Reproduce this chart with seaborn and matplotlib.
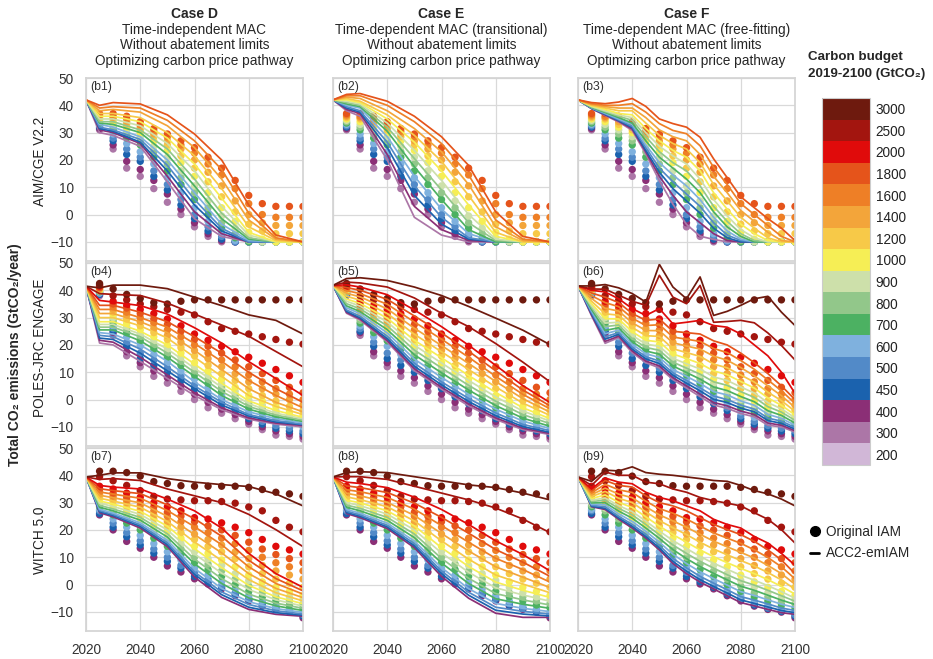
import numpy as np
import pandas as pd
import matplotlib
matplotlib.use("Agg")
import matplotlib.pyplot as plt
import seaborn as sns
from matplotlib.colors import ListedColormap, BoundaryNorm
from matplotlib.lines import Line2D

# =====================================
# Carbon budgets and colours
# =====================================

budget_levels = [3000, 2500, 2000, 1800, 1600, 1400, 1200, 1000, 900, 800, 700, 600, 500, 450, 400, 300, 200]
budget_colors = ["#6e1a0e", "#a3150f", "#e00b0b", "#e5541b", "#ee7f26", "#f3a53a", "#f7c948", "#f6ee55",
                 "#cde0aa", "#92c78a", "#4cb162", "#7fb1de", "#528ac8", "#1b62ae", "#8b2f76", "#ac76a7", "#d1b7d7"]
palette = dict(zip(budget_levels, budget_colors))

dot_years = [2025, 2030, 2035, 2040, 2045, 2050, 2055, 2060, 2065, 2070, 2075, 2080, 2085, 2090, 2095, 2100]
line_years_de = [2020, 2025, 2030, 2040, 2050, 2060, 2070, 2080, 2090, 2100]
line_years_f = [2020, 2025, 2030, 2035, 2040, 2045, 2050, 2055, 2060, 2065, 2070, 2075, 2080, 2085, 2090, 2095, 2100]

# =====================================
# AIM/CGE V2.2
# =====================================

aim_budgets = [300, 400, 450, 500, 600, 700, 800, 900, 1000, 1200, 1400, 1600, 1800]

aim_dots = [
    [31, 24, 17, 14, 9.5, 4.5, 0, -4.5, -8, -10, -10, -10, -10, -10, -10, -10],
    [31.5, 25.5, 19.5, 16.5, 12.5, 7.5, 2, -3, -7, -9.5, -10, -10, -10, -10, -10, -10],
    [32, 27, 22, 19.5, 14, 9, 3.5, -1.5, -6, -9, -10, -10, -10, -10, -10, -10],
    [32.5, 28, 24, 21, 16, 11, 5.5, 0, -4.5, -8, -10, -10, -10, -10, -10, -10],
    [33, 29.5, 26, 23, 18.5, 13.5, 8, 2.5, -2.5, -7, -9.5, -10, -10, -10, -10, -10],
    [33.5, 31, 28, 25.5, 21, 16, 11, 5.5, 0, -5, -8.5, -10, -10, -10, -10, -10],
    [34, 32, 29.5, 27, 23, 18.5, 13.5, 8, 2.5, -3, -7, -9.5, -10, -10, -10, -10],
    [34.5, 33, 31, 28.5, 25, 21, 16, 10.5, 5, -0.5, -5, -8.5, -10, -10, -10, -10],
    [35, 34, 32, 30, 27, 23.5, 19, 14, 8, 2.5, -2.5, -6.5, -9, -10, -10, -10],
    [35.5, 35, 33, 31, 28.5, 25.5, 21.5, 17, 12, 6.5, 1, -3.5, -6, -7, -7, -7],
    [36, 35.5, 34, 32, 29.5, 27, 24, 20, 15.5, 10.5, 5, 0, -3, -4, -4, -4],
    [36.5, 36, 35, 33, 30.5, 28.5, 25.5, 22.5, 18.5, 14.5, 9.5, 4, 0, -1, -1, -1],
    [37, 37, 36, 34, 31.5, 29.5, 27, 24.5, 21, 17, 12.5, 7, 4, 3, 3, 3],
]

aim_lines_d = [
    [42, 30, 29, 25, 12, -1.5, -8, -10, -10, -10],
    [42, 31, 30, 26, 14, 1, -7, -10, -10, -10],
    [42, 31.5, 30.5, 26.5, 16, 3.5, -6, -10, -10, -10],
    [42, 32, 31, 27.5, 18, 5.5, -5, -10, -10, -10],
    [42, 33, 32, 28.5, 20, 8, -3.5, -9.5, -10, -10],
    [42, 33.5, 33, 30, 22, 10.5, -1.5, -9, -10, -10],
    [42, 34, 34, 31, 24, 13, 0.5, -8.5, -10, -10],
    [42, 35, 35, 32.5, 26, 16, 3, -7.5, -10, -10],
    [42, 36, 36, 34, 28, 18.5, 6, -6.5, -10, -10],
    [42, 37, 37, 35.5, 30, 21.5, 9.5, -4.5, -9.5, -10],
    [42, 38, 38.5, 37.5, 32.5, 24.5, 13, -2, -9, -10],
    [42, 39, 39.5, 39, 34.5, 27, 16.5, 0.5, -8.5, -10],
    [42, 40, 41, 40.5, 36.5, 29.5, 20, 3.5, -7.5, -10],
]

aim_lines_e = [
    [42, 38, 36, 20, -1, -7.5, -10, -10, -10, -10],
    [42, 38.5, 37, 22, 3, -5.5, -9.5, -10, -10, -10],
    [42, 39, 37.5, 24.5, 7, -3.5, -9, -10, -10, -10],
    [42, 39.5, 38, 26.5, 10.5, -1, -8.5, -10, -10, -10],
    [42, 40, 39, 28.5, 14, 2, -7, -10, -10, -10],
    [42, 40.5, 39.5, 30.5, 17.5, 5.5, -5.5, -10, -10, -10],
    [42, 41, 40, 32, 20.5, 9, -3, -9.5, -10, -10],
    [42, 41.5, 40.5, 33.5, 23.5, 12.5, 0, -9, -10, -10],
    [42, 42, 41, 35, 26.5, 16, 3.5, -8, -10, -10],
    [42, 42.5, 41.5, 36.5, 29, 19.5, 7, -6.5, -10, -10],
    [42, 43, 42.5, 38, 31.5, 23, 11, -4.5, -9.5, -10],
    [42, 43.5, 43.5, 40, 34, 26, 14.5, -2, -9, -10],
    [42, 44, 44.3, 41.5, 36, 28.5, 18, 1, -8, -10],
]

aim_lines_f = [
    [42, 38.8, 36.3, 33.9, 30.8, 22.2, 12.4, 3.8, -3.6, -7.9, -9.1, -10, -10, -10, -10, -10, -10],
    [42, 38.8, 36.5, 34.2, 31.3, 23, 14, 7, 1, -3, -7, -9.5, -10, -10, -10, -10, -10],
    [42, 38.9, 36.7, 34.4, 31.8, 23.5, 15.5, 9.5, 5, 0.5, -5, -8.5, -10, -10, -10, -10, -10],
    [42, 39, 36.9, 34.7, 32.3, 24.5, 17, 12, 7.5, 3, -3, -7.5, -9.5, -10, -10, -10, -10],
    [42, 39.1, 37.1, 35, 33, 25.5, 19, 14.5, 10.5, 5.5, -1, -6, -9, -10, -10, -10, -10],
    [42, 39.2, 37.4, 35.5, 33.5, 27, 21, 17, 13, 8, 1, -4.5, -8, -10, -10, -10, -10],
    [42, 39.4, 37.7, 36, 34.5, 28.5, 23, 19, 16, 10.5, 3, -2.5, -7, -9.5, -10, -10, -10],
    [42, 39.6, 38, 36.5, 35.5, 30, 25, 21.5, 18.5, 13, 5.5, -0.5, -5.5, -8.5, -10, -10, -10],
    [42, 39.8, 38.5, 37, 36.5, 31.5, 27, 23.5, 21, 16, 8, 2, -3.5, -7, -9.5, -10, -10],
    [42, 40, 39, 38, 38, 33.5, 29, 26, 24, 19, 11, 5, -1, -5, -8.5, -10, -10],
    [42, 40.3, 39.5, 39, 39, 35.5, 31, 28.5, 27, 22, 14, 8, 1.5, -2.5, -6.5, -9.5, -10],
    [42, 40.6, 40, 40, 40.6, 37.5, 33.3, 30.8, 29.6, 25.2, 17.3, 11, 4, 0, -4, -8, -10],
    [42, 41, 40.6, 41.2, 42.5, 39.6, 35, 33.3, 32, 28.3, 20.4, 13.5, 6.5, 2.5, -1.5, -5, -9.5],
]

# =====================================
# POLES-JRC ENGAGE
# =====================================

poles_budgets = [300, 400, 450, 500, 600, 700, 800, 900, 1000, 1200, 1400, 1600, 1800, 2000, 2500, 3000]

poles_dots = [
    [38, 23.5, 16, 12, 8.5, 6, 3, 0, -3, -5, -7, -9, -11, -13, -13.5, -14.5],
    [38.5, 24.5, 17.5, 13.5, 10.5, 8, 5, 2, -1, -3.5, -5.5, -8, -10, -11.5, -12.5, -13.5],
    [38.5, 25, 19.5, 15, 12.5, 10, 7, 4, 1, -1.5, -4, -7, -9, -10.5, -11.5, -12.5],
    [39, 26, 21, 17, 14.5, 11.5, 8.5, 5.5, 2.5, 0, -3, -6, -8, -9.5, -10.5, -11.5],
    [39, 27, 23, 19.5, 16.5, 13.5, 10.5, 7.5, 4.5, 1.5, -1.5, -4.5, -6.5, -8, -9, -10],
    [39.5, 28, 24.5, 21.5, 18.5, 15.5, 12.5, 9, 6, 3, 0, -3, -5, -6.5, -8, -9],
    [39.5, 29, 26, 23, 20, 17, 14, 10.5, 7.5, 4.5, 1.5, -1.5, -3.5, -5, -6.5, -8],
    [40, 30, 27, 24, 21.5, 18.5, 15.5, 12, 9, 6, 3, 0, -2, -4, -5.5, -7],
    [40, 31, 28, 25.5, 23, 20, 17, 13.5, 10.5, 7.5, 4.5, 1.5, -0.5, -2.5, -4.5, -6],
    [40.5, 32, 29.5, 27, 24.5, 22, 19, 16, 12.5, 9.5, 7, 4, 1.5, -0.5, -2.5, -4],
    [40.5, 33, 31, 28.5, 26, 23.5, 21, 18, 15, 12, 9.5, 6.5, 4, 2, 0, -2],
    [41, 34, 32, 30, 28, 25.5, 23, 20, 17, 14.5, 12, 9, 6.5, 4, 2, 0],
    [41, 35, 33.5, 31.5, 29.5, 27.5, 25, 22, 19.5, 17, 14.5, 12, 9.5, 7, 4.5, 2.5],
    [41.5, 36, 34.5, 33, 31.5, 29.5, 27, 24, 21.7, 19.5, 17.5, 15.5, 13.3, 11, 8.7, 6.3],
    [42, 38, 36.5, 35, 34, 33, 32, 31, 28.5, 26, 25, 24, 23, 22, 21, 20.3],
    [42.5, 40.5, 38.5, 37, 35.5, 35, 36, 36.5, 36.5, 36.5, 36.5, 36.5, 36.5, 36.5, 36.5, 36.5],
]

poles_lines_d = [
    [41.5, 20.7, 20, 14, 7.7, 1.5, -3.7, -7.2, -9, -10],
    [41.5, 21.7, 21, 15.5, 9, 2.5, -3, -6.7, -8.6, -9.5],
    [41.5, 22.5, 22, 17, 10.5, 4, -2, -6, -8.2, -9.2],
    [41.5, 23.5, 23, 18.5, 12, 5, -1, -5.5, -7.7, -9],
    [41.5, 24.5, 24, 20, 14, 6.5, 0, -4.5, -7, -8.5],
    [41.5, 25.5, 25.5, 21.5, 15.5, 8.5, 1.5, -3.5, -6.3, -8],
    [41.5, 26.5, 26.5, 23, 17, 10, 3, -2.5, -5.7, -7.5],
    [41.5, 27.5, 27.5, 24, 18.5, 11.5, 4.5, -1.5, -5, -7],
    [41.5, 28.5, 28.5, 25, 20, 13, 6, -0.5, -4, -6.5],
    [41.5, 30, 30, 27, 22.5, 15.5, 8.5, 1.5, -2.5, -5.5],
    [41.5, 31.5, 31.5, 28.5, 24.5, 18, 11, 4, -1, -4.5],
    [41.5, 33, 33, 30, 26.5, 20.5, 14, 7, 1.5, -3],
    [41.5, 34.5, 34.5, 32, 28.5, 23, 17, 10, 4, -1],
    [41.5, 36.3, 35.7, 34.4, 31.3, 26.3, 20.7, 13.9, 7.7, 1.5],
    [41.5, 38.8, 38.5, 38.1, 35.3, 31.3, 27.3, 23.2, 17.6, 12],
    [41.5, 40.9, 41.9, 41.9, 40.6, 37.5, 34.4, 31, 29, 24],
]

poles_lines_e = [
    [41.8, 31.6, 29.1, 21.1, 10.6, 3.8, -2.3, -7.3, -11, -12.8],
    [41.8, 31.9, 29.5, 21.6, 11.3, 4.5, -1.6, -6.7, -10.5, -12.4],
    [41.8, 32.3, 29.9, 22.3, 12.2, 5.4, -0.7, -5.9, -9.9, -12],
    [41.8, 32.8, 30.5, 23.2, 13.3, 6.5, 0.4, -4.9, -9.1, -11.4],
    [41.8, 33.6, 31.4, 24.4, 14.8, 8.1, 1.9, -3.5, -7.9, -10.6],
    [41.8, 34.3, 32.2, 25.6, 16.4, 9.8, 3.5, -2.2, -6.8, -9.8],
    [41.8, 35.1, 33.2, 27, 18.1, 11.6, 5.2, -0.6, -5.5, -8.8],
    [41.8, 36, 34.2, 28.4, 19.9, 13.4, 7, 1, -4.2, -7.9],
    [41.8, 36.8, 35.2, 29.8, 21.7, 15.3, 8.8, 2.6, -3, -7],
    [41.8, 37.8, 36.4, 31.5, 23.9, 17.5, 11, 4.6, -1.3, -5.8],
    [41.8, 38.9, 37.6, 33.2, 26.1, 19.8, 13.2, 6.6, 0.3, -4.6],
    [41.8, 39.9, 38.8, 34.9, 28.4, 22.1, 15.5, 8.5, 1.9, -3.4],
    [41.8, 41, 40, 36.7, 30.6, 24.4, 17.7, 10.5, 3.5, -2.3],
    [41.8, 42, 41.2, 38.4, 32.8, 26.7, 19.9, 12.5, 5.1, -1.1],
    [41.8, 43, 42.7, 41.2, 37.2, 31.6, 26.7, 20.5, 13.7, 6.5],
    [41.8, 44.3, 44.6, 43.6, 41.2, 38.1, 34.1, 29.8, 25.4, 20.1],
]

poles_lines_f = [
    [41.6, 30.7, 20.6, 22.7, 17.2, 13.5, 11.6, 7.3, 4.2, 1.1, -2, -3.2, -5.1, -6.3, -9.4, -10, -11.9],
    [41.6, 31, 21.3, 23.2, 17.8, 14.1, 12.3, 8, 5, 2, -1.1, -2.3, -4.2, -5.5, -8.6, -9.4, -11.4],
    [41.6, 31.4, 22.1, 23.9, 18.5, 14.9, 13.2, 8.9, 6, 3.2, 0.1, -1.1, -3.1, -4.5, -7.7, -8.7, -10.8],
    [41.6, 31.9, 23, 24.5, 19.2, 15.7, 14.1, 9.8, 7, 4.3, 1.3, 0, -2, -3.5, -6.8, -7.9, -10.2],
    [41.6, 32.4, 24.1, 25.4, 20.2, 16.8, 15.4, 11, 8.5, 5.9, 2.9, 1.7, -0.5, -2.1, -5.4, -6.9, -9.4],
    [41.6, 33, 25.3, 26.3, 21.2, 17.8, 16.6, 12.3, 9.9, 7.5, 4.6, 3.3, 1.1, -0.8, -4.1, -5.8, -8.6],
    [41.6, 33.7, 26.7, 27.3, 22.3, 19.1, 18, 13.7, 11.5, 9.3, 6.5, 5.2, 2.9, 0.8, -2.6, -4.6, -7.6],
    [41.6, 34.4, 28, 28.3, 23.5, 20.3, 19.5, 15.1, 13.1, 11.2, 8.3, 7, 4.6, 2.4, -1.1, -3.4, -6.7],
    [41.6, 35.1, 29.6, 29.5, 24.8, 21.7, 21.1, 16.7, 15, 13.2, 10.5, 9.1, 6.6, 4.2, 0.6, -2.1, -5.6],
    [41.6, 36, 31.4, 30.9, 26.4, 23.4, 23.1, 18.6, 17.2, 15.8, 13, 11.6, 9, 6.4, 2.7, -0.4, -4.3],
    [41.6, 37, 33.4, 32.4, 28.1, 25.3, 25.2, 20.8, 19.6, 18.5, 15.9, 14.4, 11.7, 8.7, 5, 1.4, -2.9],
    [41.6, 38, 35.5, 34, 29.8, 27.1, 27.4, 22.9, 22.1, 21.3, 18.7, 17.2, 14.3, 11.1, 7.2, 3.2, -1.4],
    [41.6, 39, 37.5, 35.5, 31.5, 29, 29.5, 25, 24.5, 24, 21.5, 20, 17, 13.5, 9.5, 5, 0],
    [41.6, 40, 39.4, 36.9, 33.3, 30.8, 33.3, 27.7, 28.3, 29, 27.1, 26.5, 24, 20, 16, 10, 2.3],
    [41.6, 40.5, 40.4, 38.2, 36, 34.5, 45.5, 37.5, 35.1, 41.8, 28.3, 28.6, 29, 28.1, 24.4, 19.8, 14.5],
    [41.6, 41.6, 42.1, 40.9, 38.8, 35.7, 49.5, 41.2, 36.9, 44.9, 30.8, 32.3, 34.5, 36.9, 37.8, 32, 27.1],
]

# =====================================
# WITCH 5.0
# =====================================

witch_budgets = [400, 450, 500, 600, 700, 800, 900, 1000, 1200, 1400, 1600, 1800, 2000, 2500, 3000]

witch_dots = [
    [25.5, 20, 15.8, 13.3, 10, 6.8, 4.6, 2.1, 0.2, -1.6, -4.1, -6, -7.9, -9.1, -10.1, -12.2],
    [26, 21, 17.5, 14.5, 11.5, 8.5, 6, 3, 1, -1, -3.5, -5.5, -7.5, -8.7, -9.8, -11.5],
    [27, 22.5, 19, 16, 13, 10, 7, 4.5, 2, -0.5, -3, -5, -7, -8.5, -9.5, -11],
    [27.5, 24, 21, 18, 15, 12, 9, 6, 3.5, 1, -1.5, -4, -6, -7.5, -9, -10],
    [28.5, 25.5, 22.5, 20, 17, 14, 11, 8, 5.5, 3, 0, -2.5, -4.5, -6, -7.5, -8.5],
    [29, 27, 24, 21.5, 19, 16, 13, 10, 7.5, 5, 2, -0.5, -3, -4.5, -6, -7],
    [30, 28, 25.5, 23, 20.5, 17.5, 15, 12, 9.5, 7, 4, 1.5, -1, -3, -4.5, -5.5],
    [31, 29, 27, 24.5, 22, 19.5, 17, 14, 11.5, 9, 6.5, 3.5, 1, -1, -2.5, -4],
    [32, 30.5, 28.5, 26, 24, 21.5, 19, 16.5, 14, 12, 9.5, 6.5, 4, 2, 0.5, -1],
    [33, 31.5, 30, 27.5, 25.5, 23, 21, 18.5, 16.5, 14.5, 12, 9.5, 7, 5, 3.5, 2],
    [34, 32.5, 31, 29, 27, 25, 23, 21, 19, 17, 15, 12.5, 10, 8, 6.5, 5],
    [35, 33.5, 32, 30.5, 28.5, 26.5, 25, 23, 21.5, 20, 18, 15.5, 13, 11, 9.5, 8],
    [36, 35, 33.5, 32, 30, 28.5, 27, 24.5, 24, 22.6, 21, 19, 16.5, 14, 12.7, 11.2],
    [39.5, 38, 36.3, 34.4, 32.3, 31.3, 31, 30.7, 30.7, 30.4, 29.8, 28.4, 27, 23.5, 21, 19.3],
    [41.5, 41.5, 41, 39.7, 37.7, 37, 36.2, 36, 36, 36, 36, 35.6, 34.8, 33.8, 33.2, 32.3],
]

witch_lines_d = [
    [39.4, 26.3, 24.8, 20.7, 13.9, 2.7, -4.7, -9.1, -10.9, -11.6],
    [39.4, 26.7, 25.3, 21.3, 14.6, 3.7, -3.7, -8.3, -10.3, -11.2],
    [39.4, 27.1, 25.7, 21.9, 15.3, 4.6, -2.7, -7.3, -9.6, -10.8],
    [39.4, 27.6, 26.2, 22.6, 16.2, 5.9, -1.4, -6.3, -8.8, -10.2],
    [39.4, 28.3, 27, 23.6, 17.4, 7.6, 0.4, -4.9, -7.8, -9.5],
    [39.4, 29, 27.7, 24.6, 18.6, 9.3, 2.2, -3.5, -6.8, -8.7],
    [39.4, 29.8, 28.6, 25.7, 20, 11.2, 4.2, -1.8, -5.6, -7.9],
    [39.4, 30.6, 29.5, 26.8, 21.4, 13.1, 6.2, -0.3, -4.5, -7],
    [39.4, 31.6, 30.6, 28.3, 23.1, 15.6, 8.8, 1.8, -3, -6],
    [39.4, 32.7, 31.8, 29.9, 25, 18.3, 11.6, 4, -1.4, -4.8],
    [39.4, 33.9, 33.1, 31.6, 27.1, 21.2, 14.6, 6.5, 0.4, -3.5],
    [39.4, 35.1, 34.4, 33.3, 29.2, 24.1, 17.7, 8.9, 2.2, -2.3],
    [39.4, 36.3, 35.7, 35, 31.3, 27, 20.7, 11.4, 4, -1],
    [39.4, 38.5, 38.8, 38.1, 35, 32.5, 30, 25.7, 20.1, 13.9],
    [39.4, 40, 40.9, 40.9, 38.8, 37.5, 36.6, 35.9, 33.2, 28.8],
]

witch_lines_e = [
    [39.4, 26, 24.5, 20.5, 13.5, 3, -5, -10.5, -12, -12],
    [39.4, 26.4, 25, 21.1, 14.2, 4, -3.9, -9.4, -10.8, -11.5],
    [39.4, 26.9, 25.5, 21.7, 15, 5, -2.8, -8.3, -9.8, -10.8],
    [39.4, 27.5, 26.1, 22.5, 15.9, 6.2, -1.5, -6.9, -8.7, -9.9],
    [39.4, 28.3, 27, 23.5, 17.2, 7.9, 0.4, -5.2, -7.2, -8.7],
    [39.4, 29.1, 27.9, 24.6, 18.5, 9.6, 2.3, -3.3, -5.6, -7.5],
    [39.4, 30, 28.9, 25.8, 20, 11.6, 4.5, -1.2, -3.8, -6.1],
    [39.4, 30.9, 29.9, 27, 21.5, 13.5, 6.6, 0.9, -2.1, -4.7],
    [39.4, 32.1, 31.1, 28.5, 23.3, 16, 9.3, 3.5, 0.2, -3],
    [39.4, 33.4, 32.5, 30.1, 25.3, 18.7, 12.3, 6.5, 2.7, -1.1],
    [39.4, 34.7, 34, 31.9, 27.6, 21.6, 15.5, 9.6, 5.5, 0.9],
    [39.4, 36.1, 35.5, 33.7, 29.8, 24.6, 18.8, 12.8, 8.2, 3],
    [39.4, 37.5, 37, 35.5, 32, 27.5, 22, 16, 11, 5],
    [39.4, 39.5, 39.5, 38.5, 36, 33.5, 31, 28, 24, 19],
    [39.4, 41, 41.3, 41, 39.5, 38, 36.5, 35.5, 33.5, 31],
]

witch_lines_f = [
    [39.4, 28.5, 27.5, 23.9, 20.7, 17, 12.7, 7.7, 4, 0.9, -1.6, -4.1, -6.6, -7.8, -9.1, -10.3, -10.9],
    [39.4, 28.7, 27.9, 24.4, 21.3, 17.6, 13.4, 8.5, 4.9, 1.8, -0.7, -3.1, -5.6, -6.9, -8.2, -9.5, -10.3],
    [39.4, 29, 28.5, 25, 22, 18.4, 14.3, 9.6, 6.1, 3, 0.5, -1.9, -4.4, -5.7, -7.1, -8.6, -9.5],
    [39.4, 29.4, 29.2, 25.9, 23.1, 19.5, 15.5, 11.1, 7.7, 4.7, 2.2, -0.2, -2.6, -4, -5.6, -7.2, -8.4],
    [39.4, 29.9, 30, 26.9, 24.3, 20.7, 16.9, 12.8, 9.5, 6.6, 4.1, 1.7, -0.6, -2.1, -3.9, -5.7, -7.3],
    [39.4, 30.4, 30.9, 27.9, 25.5, 22, 18.2, 14.5, 11.4, 8.5, 6, 3.6, 1.4, -0.2, -2.1, -4.1, -6.1],
    [39.4, 30.9, 31.7, 28.9, 26.7, 23.2, 19.6, 16.1, 13.2, 10.3, 7.8, 5.6, 3.4, 1.6, -0.4, -2.6, -5],
    [39.4, 31.5, 32.8, 30.1, 28.2, 24.8, 21.4, 18.3, 15.5, 12.7, 10.2, 8, 5.9, 4, 1.8, -0.7, -3.5],
    [39.4, 32.2, 34.1, 31.6, 30, 26.6, 23.4, 20.8, 18.3, 15.5, 13, 10.9, 8.8, 6.8, 4.4, 1.7, -1.7],
    [39.4, 32.9, 35.3, 33.1, 31.8, 28.5, 25.5, 23.3, 21, 18.4, 15.9, 13.8, 11.8, 9.7, 7, 4, 0.1],
    [39.4, 33.6, 36.7, 34.7, 33.7, 30.5, 27.8, 26.1, 24, 21.4, 18.9, 17, 15.1, 12.7, 9.9, 6.5, 2.1],
    [39.4, 34.4, 38.1, 36.3, 35.7, 32.5, 30, 28.8, 27, 24.5, 22, 20.1, 18.3, 15.8, 12.7, 9, 4],
    [39.4, 35, 39, 37.5, 36.9, 33.8, 31.9, 30.7, 28.8, 27, 23.9, 22, 20.7, 17.6, 15.2, 11.4, 7.1],
    [39.4, 36.3, 41.2, 40, 40, 37.5, 36.9, 35, 33.8, 31.9, 30.7, 29.8, 28.8, 26.3, 23.9, 20.1, 15.2],
    [39.4, 37.8, 41.9, 41.6, 43.1, 41, 40.4, 40, 39.4, 38.8, 38.1, 37.8, 36.3, 34.4, 33.2, 31.3, 28.8],
]

case_titles = [
    ("Case D", "Time-independent MAC\nWithout abatement limits\nOptimizing carbon price pathway"),
    ("Case E", "Time-dependent MAC (transitional)\nWithout abatement limits\nOptimizing carbon price pathway"),
    ("Case F", "Time-dependent MAC (free-fitting)\nWithout abatement limits\nOptimizing carbon price pathway"),
]
model_names = ["AIM/CGE V2.2", "POLES-JRC ENGAGE", "WITCH 5.0"]


def long_table(budgets, years, rows):
    recs = []
    for b, row in zip(budgets, rows):
        assert len(row) == len(years), (b, len(row))
        for yr, v in zip(years, row):
            recs.append((b, yr, v))
    return pd.DataFrame(recs, columns=["budget", "year", "emission"])


models = [
    (aim_budgets, aim_dots, [aim_lines_d, aim_lines_e, aim_lines_f]),
    (poles_budgets, poles_dots, [poles_lines_d, poles_lines_e, poles_lines_f]),
    (witch_budgets, witch_dots, [witch_lines_d, witch_lines_e, witch_lines_f]),
]
case_years = [line_years_de, line_years_de, line_years_f]

# =====================================
# Figure
# =====================================

sns.set_theme(style="whitegrid", rc={"grid.color": "#d9d9d9", "axes.edgecolor": "#d4d4d4",
                                     "grid.linewidth": 0.9})
plt.rcParams["font.family"] = ["Liberation Sans", "DejaVu Sans"]

W, H = 933, 659
fig = plt.figure(figsize=(W / 100, H / 100), dpi=100)

col_left = [86, 333, 578]
row_top = [78, 263, 448]
pw, ph = 217, 183

panel_no = 1
for r, (budgets, dots, lines_by_case) in enumerate(models):
    dots_df = long_table(budgets, dot_years, dots)
    for c in range(3):
        ax = fig.add_axes([col_left[c] / W, 1 - (row_top[r] + ph) / H, pw / W, ph / H])
        lines_df = long_table(budgets, case_years[c], lines_by_case[c])

        sns.scatterplot(data=dots_df, x="year", y="emission", hue="budget", palette=palette,
                        s=28, linewidth=0, legend=False, ax=ax, zorder=1)
        sns.lineplot(data=lines_df, x="year", y="emission", hue="budget", hue_order=budgets,
                     palette=palette, estimator=None, sort=False, linewidth=1.25,
                     legend=False, ax=ax, zorder=2)

        ax.set_xlim(2020, 2100)
        ax.set_ylim(-17, 50)
        ax.set_xticks([2020, 2040, 2060, 2080, 2100])
        ax.set_yticks([-10, 0, 10, 20, 30, 40, 50])
        ax.set_xlabel("")
        ax.set_ylabel("")
        ax.tick_params(labelsize=9.8, colors="#333333", pad=3,
                       labelleft=(c == 0), labelbottom=(r == 2))
        ax.text(0.02, 0.985, f"(b{panel_no})", transform=ax.transAxes, ha="left", va="top",
                fontsize=8.8, color="#333333")
        panel_no += 1

# column headers
col_centres = [(l + pw / 2) / W for l in col_left]
for cx, (case, desc) in zip(col_centres, case_titles):
    fig.text(cx, 1 - 14 / H, case, ha="center", va="center", fontsize=10, fontweight="bold")
    fig.text(cx, 1 - 23 / H, desc, ha="center", va="top", fontsize=9.8, linespacing=1.12)

# row labels
for name, yc in zip(model_names, [161, 348, 540]):
    fig.text(40 / W, 1 - yc / H, name, rotation=90, ha="center", va="center", fontsize=9.8,
             color="#222222")
fig.text(15 / W, 1 - 355 / H, "Total CO₂ emissions (GtCO₂/year)", rotation=90, ha="center",
         va="center", fontsize=10, fontweight="bold")

# discrete colour bar
cax = fig.add_axes([822 / W, 1 - 465 / H, 48 / W, 367 / H])
n = len(budget_levels)
cmap = ListedColormap(budget_colors[::-1])
norm = BoundaryNorm(np.arange(n + 1), n)
cb = fig.colorbar(plt.cm.ScalarMappable(norm=norm, cmap=cmap), cax=cax, ticks=np.arange(n) + 0.5)
cb.set_ticklabels([str(b) for b in budget_levels[::-1]])
cb.outline.set_edgecolor("#cccccc")
cb.outline.set_linewidth(0.8)
cax.minorticks_off()
cax.grid(False)
cax.tick_params(which="both", length=0, labelsize=9.8, pad=4, colors="#222222")

fig.text(808 / W, 1 - 57 / H, "Carbon budget", ha="left", va="center", fontsize=9.6, fontweight="bold")
fig.text(808 / W, 1 - 74 / H, "2019-2100 (GtCO₂)", ha="left", va="center", fontsize=9.6,
         fontweight="bold")

handles = [
    Line2D([], [], marker="o", color="black", linestyle="none", markersize=7),
    Line2D([], [], color="black", linewidth=2),
]
fig.legend(handles, ["Original IAM", "ACC2-emIAM"], loc="upper left",
           bbox_to_anchor=(803 / W, 1 - 518 / H), frameon=False, fontsize=9.8,
           handlelength=0.7, handletextpad=0.5, labelspacing=0.55, borderpad=0)

fig.savefig("out.png", dpi=100)
